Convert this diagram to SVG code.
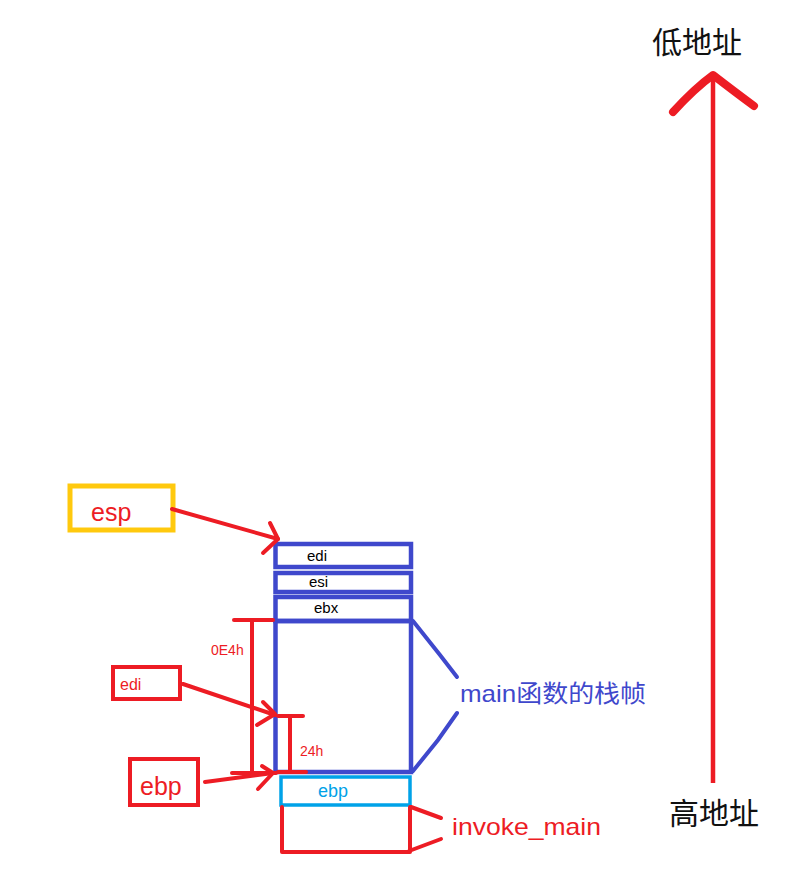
<svg xmlns="http://www.w3.org/2000/svg" width="793" height="878" viewBox="0 0 793 878">
<style>
.red{stroke:#ed1c24;fill:none;stroke-width:4;stroke-linecap:round;stroke-linejoin:round}
.blue{stroke:#3f48cc;fill:none;stroke-width:4.5}
.bl{stroke:#3f48cc;fill:none;stroke-width:4;stroke-linecap:round}
.t{font-family:"Liberation Sans","Noto Sans CJK SC",sans-serif}
.cjk{font-family:"Noto Sans CJK SC","Liberation Sans",sans-serif}
.small{font-size:15px;fill:#000}
</style>
<rect width="793" height="878" fill="#fff"/>
<g id="axis">
<line x1="713" y1="78" x2="713" y2="783" stroke="#ed1c24" stroke-width="4.5"/>
<path d="M673,112 Q695,88 713,75 Q735,92 754,106" fill="none" stroke="#ed1c24" stroke-width="8" stroke-linecap="round" stroke-linejoin="round"/>
<text class="cjk" x="652" y="53" font-size="30" fill="#111">低地址</text>
<text class="cjk" x="669" y="824" font-size="30" fill="#111">高地址</text>
</g>
<g id="stack-edi">
<rect class="blue" x="275.5" y="544" width="135.5" height="23"/>
<text class="t small" x="307" y="561">edi</text>
</g>
<g id="stack-esi">
<rect class="blue" x="275.5" y="573" width="135.5" height="19"/>
<text class="t small" x="309" y="587">esi</text>
</g>
<g id="stack-ebx">
<rect class="blue" x="275.5" y="597" width="135.5" height="24"/>
<text class="t small" x="314" y="613">ebx</text>
</g>
<g id="main-frame">
<rect class="blue" x="275.5" y="621" width="135.5" height="151"/>
</g>
<g id="stack-ebp">
<rect x="281" y="777" width="129" height="28" fill="none" stroke="#00a2e8" stroke-width="3.5"/>
<text class="t" x="318" y="797" font-size="18" fill="#00a2e8">ebp</text>
</g>
<g id="invoke-frame">
<polyline class="red" points="410,807 410,852 282,852 282,807"/>
</g>
<g id="esp-box">
<rect x="70" y="486" width="103" height="44" fill="none" stroke="#ffc90e" stroke-width="5"/>
<text class="t" x="91" y="521" font-size="25" fill="#ed1c24">esp</text>
</g>
<g id="edi-box">
<rect x="113" y="667" width="67" height="32" fill="none" stroke="#ed1c24" stroke-width="4"/>
<text class="t" x="120" y="690" font-size="16" fill="#ed1c24">edi</text>
</g>
<g id="ebp-box">
<rect x="130" y="759" width="68" height="46" fill="none" stroke="#ed1c24" stroke-width="4"/>
<text class="t" x="140" y="795" font-size="25" fill="#ed1c24">ebp</text>
</g>
<g id="label-main">
<text class="t" x="460" y="702" font-size="24" fill="#3f48cc" textLength="186" lengthAdjust="spacingAndGlyphs">main函数的栈帧</text>
</g>
<g id="label-invoke">
<text class="t" x="452" y="835" font-size="24" fill="#ed1c24" textLength="149" lengthAdjust="spacingAndGlyphs">invoke_main</text>
</g>
<g id="connectors">
<line class="red" x1="172" y1="509" x2="278" y2="539"/>
<polyline class="red" points="270,523 278,539 263,553"/>
<line class="red" x1="183" y1="684" x2="275" y2="715"/>
<polyline class="red" points="263,702 275,714 257,725"/>
<line class="red" x1="205" y1="782" x2="273" y2="773"/>
<polyline class="red" points="262,766 273,773 258,789"/>
<line class="red" x1="234" y1="620" x2="273" y2="620"/>
<line class="red" x1="252" y1="620" x2="252" y2="772"/>
<line class="red" x1="232" y1="773" x2="276" y2="773"/>
<line class="red" x1="278" y1="716" x2="303" y2="716"/>
<line class="red" x1="290" y1="716" x2="290" y2="772"/>
<line class="red" x1="278" y1="772" x2="306" y2="772"/>
<text class="t" x="211" y="655" font-size="14" fill="#ed1c24">0E4h</text>
<text class="t" x="300" y="756" font-size="14" fill="#ed1c24">24h</text>
<polyline class="bl" points="413,621 440,655 457,677"/>
<polyline class="bl" points="457,713 438,740 413,771"/>
<line class="red" x1="411" y1="807" x2="441" y2="818"/>
<line class="red" x1="441" y1="839" x2="409" y2="851"/>
</g>
</svg>
